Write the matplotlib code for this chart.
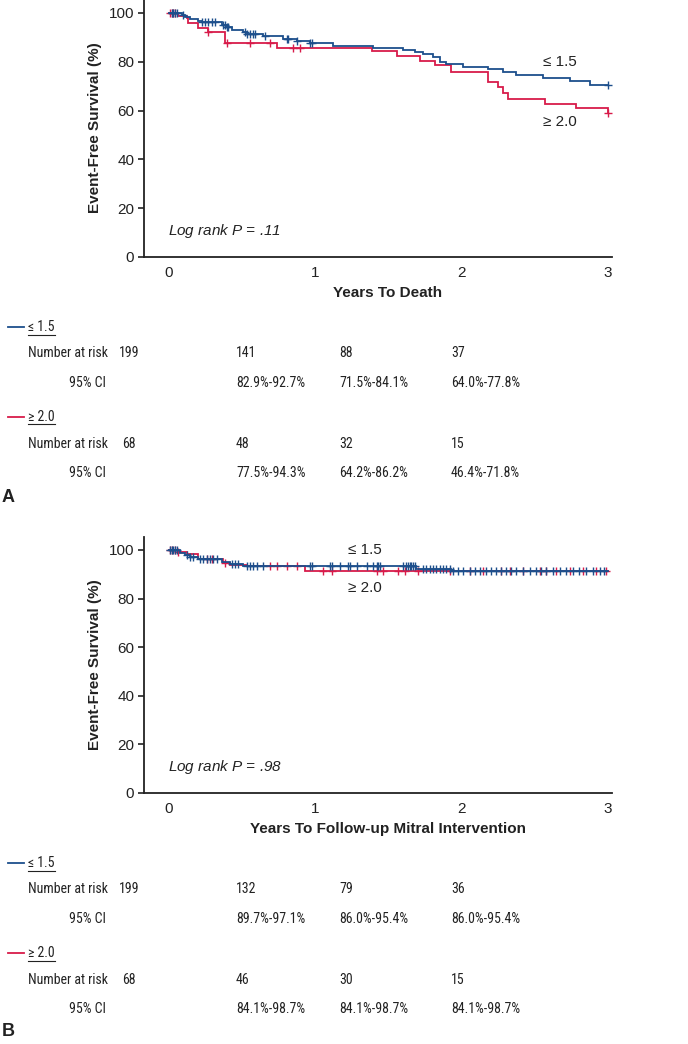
import numpy as np
import matplotlib
matplotlib.use("Agg")
import matplotlib.pyplot as plt
from matplotlib import font_manager
from matplotlib.lines import Line2D

# ---------------- data ----------------
groups = ["\u2264 1.5", "\u2265 2.0"]

# Panel A: Years to death
a_blue_t = [0, 0.087, 0.109, 0.143, 0.2, 0.223, 0.36, 0.394, 0.428, 0.508, 0.53, 0.644, 0.781,
            0.872, 0.963, 1.122, 1.395, 1.6, 1.68, 1.737, 1.805, 1.851, 1.896, 2.01, 2.181,
            2.283, 2.374, 2.556, 2.738, 2.875, 3.0]
a_blue_s = [100, 99.3, 98.4, 97.5, 96.8, 96.2, 95.2, 94.2, 93.2, 92.1, 91.4, 90.4, 89.3,
            88.5, 87.7, 86.3, 85.5, 84.7, 83.8, 83.0, 81.9, 80.0, 78.9, 77.8, 77.0,
            75.6, 74.5, 73.2, 72.1, 70.5, 70.5]
a_red_t = [0, 0.064, 0.121, 0.132, 0.2, 0.269, 0.382, 0.735, 1.384, 1.555, 1.714, 1.817, 1.93,
           2.181, 2.249, 2.283, 2.317, 2.568, 2.784, 3.0]
a_red_s = [100, 98.9, 97.9, 95.9, 93.8, 92.1, 87.7, 85.6, 84.2, 82.2, 80.4, 78.8, 75.6,
           71.9, 69.6, 67.1, 64.7, 62.7, 61.0, 59.2]
a_blue_cens = [0.018, 0.030, 0.041, 0.052, 0.098, 0.223, 0.246, 0.269, 0.291, 0.314, 0.371,
               0.383, 0.394, 0.405, 0.519, 0.530, 0.553, 0.576, 0.587, 0.656, 0.804, 0.815,
               0.872, 0.963, 0.974, 3.0]
a_red_cens = [0.007, 0.018, 0.030, 0.041, 0.269, 0.394, 0.553, 0.690, 0.849, 0.895, 3.0]

# Panel B: Years to follow-up mitral intervention
b_blue_t = [0, 0.075, 0.109, 0.143, 0.2, 0.36, 0.417, 0.508, 1.69, 1.93, 3.0]
b_blue_s = [100, 98.9, 97.8, 97.0, 96.2, 95.1, 94.2, 93.2, 92.2, 91.2, 91.2]
b_red_t = [0, 0.064, 0.121, 0.2, 0.371, 0.417, 0.53, 0.929, 3.0]
b_red_s = [100, 99.0, 98.3, 96.2, 94.8, 93.7, 93.2, 91.5, 91.5]
b_blue_cens = [0.007, 0.018, 0.030, 0.041, 0.052, 0.121, 0.143, 0.166, 0.212, 0.234, 0.257,
               0.280, 0.303, 0.326, 0.428, 0.451, 0.473, 0.530, 0.553, 0.576, 0.599, 0.644,
               0.963, 0.974, 1.099, 1.111, 1.168, 1.225, 1.236, 1.282, 1.350, 1.395,
               1.418, 1.429, 1.440, 1.600, 1.622, 1.634, 1.645, 1.656, 1.668, 1.679, 1.736,
               1.759, 1.782, 1.804, 1.827, 1.850, 1.873, 1.895, 1.918, 1.941, 1.975, 2.009,
               2.055, 2.089, 2.123, 2.168, 2.203, 2.237, 2.271, 2.305, 2.339, 2.373, 2.419,
               2.464, 2.510, 2.544, 2.578, 2.623, 2.669, 2.714, 2.760, 2.805, 2.851, 2.896,
               2.942, 2.976]
b_red_cens = [0.007, 0.018, 0.041, 0.064, 0.257, 0.291, 0.382, 0.690, 0.735, 0.804, 0.872,
              1.054, 1.111, 1.418, 1.463, 1.565, 1.611, 1.702, 1.918, 2.055, 2.146, 2.271,
              2.328, 2.419, 2.532, 2.578, 2.646, 2.737, 2.828, 2.919, 2.987]

xticks = [0, 1, 2, 3]
yticks = [0, 20, 40, 60, 80, 100]

a_xlabel = "Years To Death"
b_xlabel = "Years To Follow-up Mitral Intervention"
a_p = "Log rank $P$ = .11"
b_p = "Log rank $P$ = .98"

a_risk = [["199", "141", "88", "37"], ["68", "48", "32", "15"]]
a_ci = [["82.9%-92.7%", "71.5%-84.1%", "64.0%-77.8%"],
        ["77.5%-94.3%", "64.2%-86.2%", "46.4%-71.8%"]]
b_risk = [["199", "132", "79", "36"], ["68", "46", "30", "15"]]
b_ci = [["89.7%-97.1%", "86.0%-95.4%", "86.0%-95.4%"],
        ["84.1%-98.7%", "84.1%-98.7%", "84.1%-98.7%"]]

# ---------------- style ----------------
BLUE = "#1d4f8c"
RED = "#d81b4a"
TXT = "#222222"
W, H = 688, 1044

names = {f.name for f in font_manager.fontManager.ttflist}
MAIN = ["Liberation Sans", "DejaVu Sans"]
NARROW, NSIZE = MAIN, 9.7
for cand in ("Liberation Sans Narrow", "Arial Narrow", "Roboto Condensed"):
    if cand in names:
        NARROW, NSIZE = [cand, "DejaVu Sans"], 10.0
        break
plt.rcParams["font.family"] = MAIN
plt.rcParams["mathtext.fontset"] = "custom"
plt.rcParams["mathtext.it"] = "Liberation Sans:italic"
plt.rcParams["mathtext.rm"] = "Liberation Sans"

fig = plt.figure(figsize=(W / 100, H / 100), dpi=100)


def fx(px):
    return px / W


def fy(py):
    return 1 - py / H


def step_val(ts, ss, t):
    i = np.searchsorted(ts, t, side="right") - 1
    return np.asarray(ss)[i]


def draw_panel(top, bottom, bt, bs, rt, rs, bc, rc, xlabel, ptxt, lab_pos):
    ax = fig.add_axes([fx(144), fy(bottom), fx(612) - fx(144), (bottom - top) / H])
    ax.set_xlim(-25 / 146.33, 3 + 4 / 146.33)
    ax.set_ylim(0, 105.3)
    for t, s, c, cens in ((rt, rs, RED, rc), (bt, bs, BLUE, bc)):
        ax.plot(t, s, drawstyle="steps-post", color=c, lw=1.3, solid_joinstyle="miter")
        cy = [step_val(np.asarray(t), s, x) for x in cens]
        ax.plot(cens, cy, ls="none", marker="+", ms=5.5, mew=1.0, color=c)
    for sp in ("top", "right"):
        ax.spines[sp].set_visible(False)
    for sp in ("left", "bottom"):
        ax.spines[sp].set_linewidth(1.3)
        ax.spines[sp].set_color("#222222")
    ax.set_xticks(xticks)
    ax.set_yticks(yticks)
    ax.tick_params(axis="x", length=0, pad=6.5, labelsize=11, labelcolor=TXT)
    ax.tick_params(axis="y", length=4, width=1.2, pad=3, labelsize=11, labelcolor=TXT,
                   color="#222222")
    ax.text(-0.005, 10.5, ptxt, style="italic", fontsize=11, color=TXT, ha="left", va="center")
    # curve labels
    (x1, y1), (x2, y2) = lab_pos
    fig.text(fx(x1), fy(y1), groups[0], fontsize=11, color=TXT, ha="left", va="center")
    fig.text(fx(x2), fy(y2), groups[1], fontsize=11, color=TXT, ha="left", va="center")
    # axis labels
    fig.text(fx(388), fy(bottom + 36), xlabel, fontsize=11, fontweight="bold", color=TXT,
             ha="center", va="center")
    fig.text(fx(95), fy((top + 13 + bottom) / 2 - 7), "Event-Free Survival (%)", fontsize=11,
             fontweight="bold", color=TXT, rotation=90, ha="center", va="center")
    return ax


draw_panel(0, 257, a_blue_t, a_blue_s, a_red_t, a_red_s, a_blue_cens, a_red_cens,
           a_xlabel, a_p, ((543, 62), (543, 122)))
draw_panel(537, 793, b_blue_t, b_blue_s, b_red_t, b_red_s, b_blue_cens, b_red_cens,
           b_xlabel, b_p, ((348, 550), (348, 588)))

underlines = []


def draw_table(y0, risk, ci):
    # y0 = pixel y of first legend row
    rows = [(y0, y0 + 26, y0 + 56), (y0 + 90, y0 + 117, y0 + 146)]
    for g, ((yl, yr, yc), col) in enumerate(zip(rows, (BLUE, RED))):
        fig.add_artist(Line2D([fx(8), fx(24)], [fy(yl), fy(yl)], color=col, lw=1.3))
        t = fig.text(fx(28), fy(yl), groups[g], fontsize=NSIZE, family=NARROW, color=TXT,
                     ha="left", va="center")
        underlines.append((t, yl))
        fig.text(fx(28), fy(yr), "Number at risk", fontsize=NSIZE, family=NARROW, color=TXT,
                 ha="left", va="center")
        fig.text(fx(106), fy(yc), "95% CI", fontsize=NSIZE, family=NARROW, color=TXT,
                 ha="right", va="center")
        fig.text(fx(129), fy(yr), risk[g][0], fontsize=NSIZE, family=NARROW, color=TXT,
                 ha="center", va="center")
        for j, xp in enumerate((236, 339, 451)):
            fig.text(fx(xp), fy(yr), risk[g][j + 1], fontsize=NSIZE, family=NARROW, color=TXT,
                     ha="left", va="center")
            fig.text(fx(xp), fy(yc), ci[g][j], fontsize=NSIZE, family=NARROW, color=TXT,
                     ha="left", va="center")


draw_table(327, a_risk, a_ci)
draw_table(863, b_risk, b_ci)

fig.text(fx(2), fy(497), "A", fontsize=13, fontweight="bold", color=TXT, ha="left", va="center")
fig.text(fx(2), fy(1032), "B", fontsize=13, fontweight="bold", color=TXT, ha="left", va="center")

fig.canvas.draw()
r = fig.canvas.get_renderer()
for t, yl in underlines:
    bb = t.get_window_extent(r)
    fig.add_artist(Line2D([bb.x0 / W, bb.x1 / W], [fy(yl + 7.5), fy(yl + 7.5)], color=TXT, lw=0.8))

fig.savefig("out.png", dpi=100)
